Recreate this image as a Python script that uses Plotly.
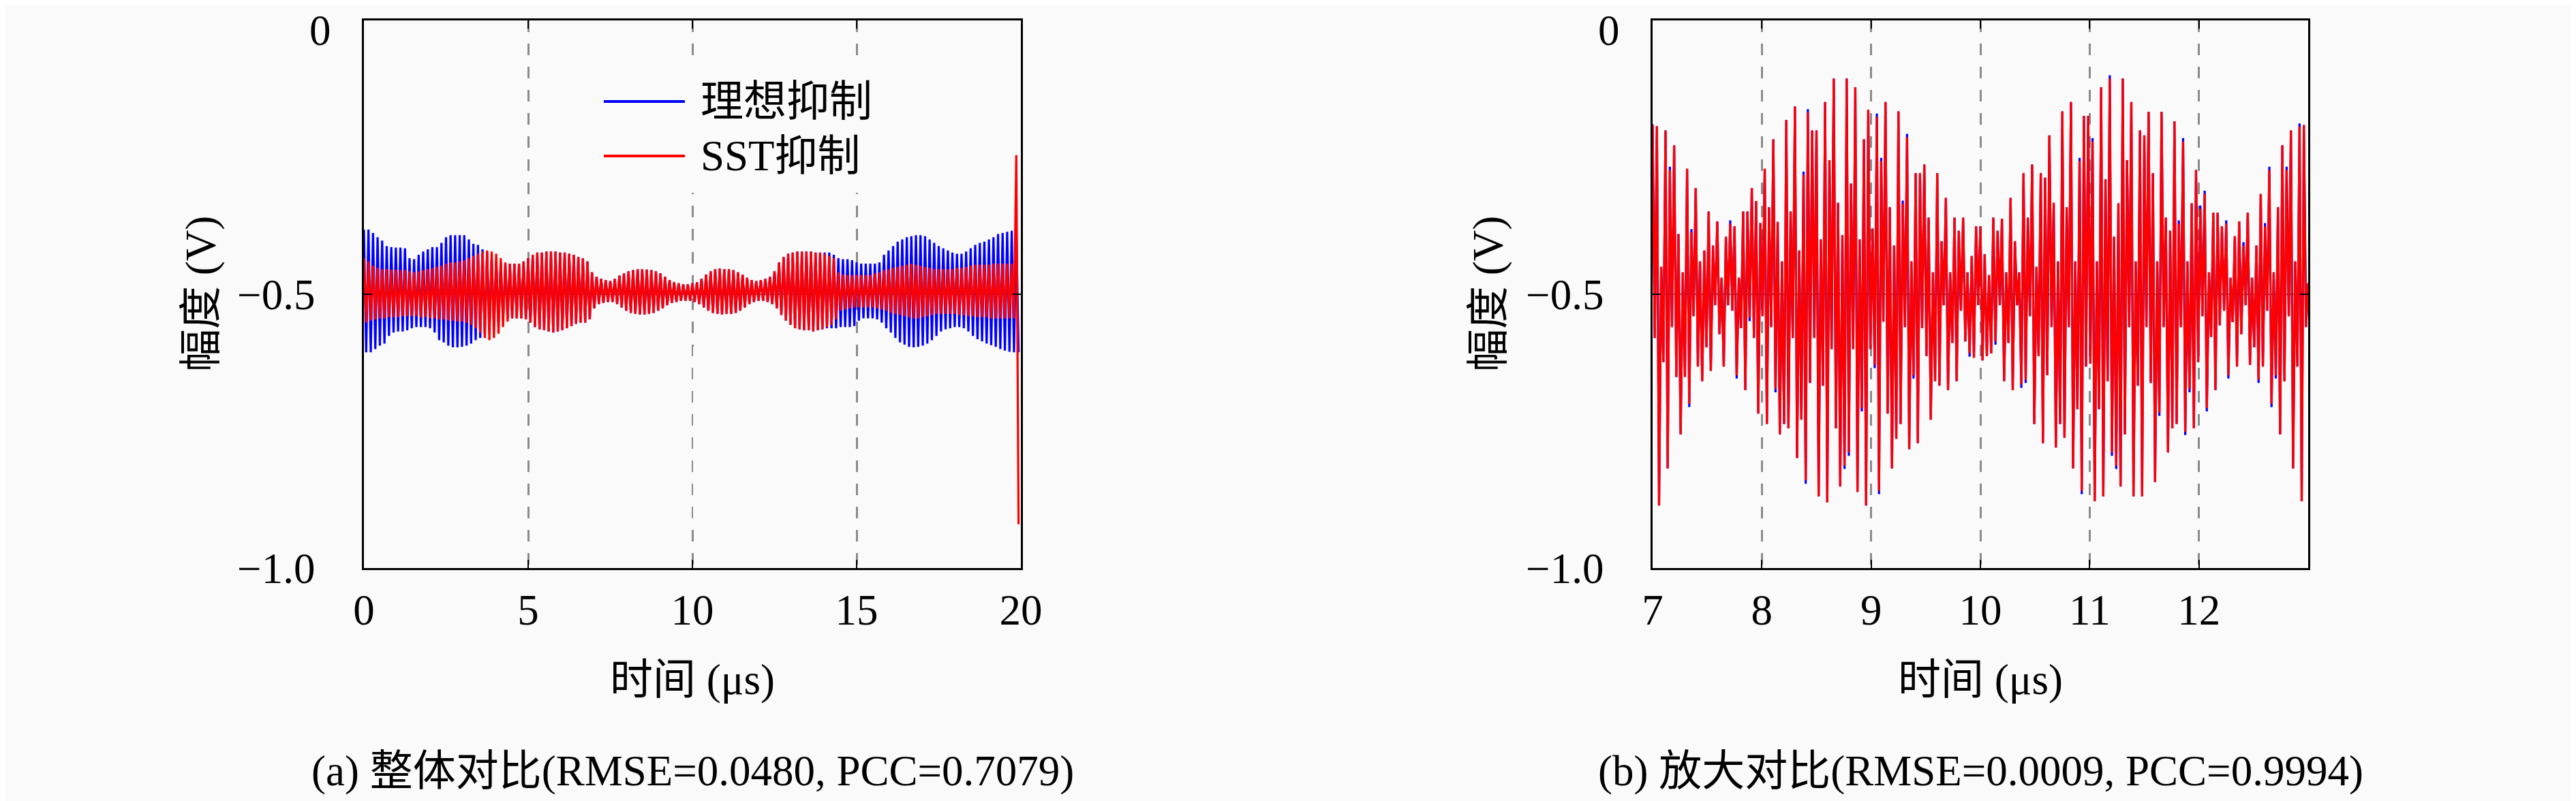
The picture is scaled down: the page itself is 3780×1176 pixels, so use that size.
import numpy as np
import plotly.graph_objects as go

# ---- data (values in mV relative to the -0.5 V baseline) ----
BASE = -0.5

# (a) 0-20 us, one top/bottom pair per carrier cycle
blue_top_a = [118, 118, 112, 104, 98, 88, 86, 85,
              85, 84, 66, 64, 72, 78, 82, 86,
              86, 94, 104, 108, 108, 108, 108, 100,
              92, 90, 82, 78, 66, 62, 58, 56,
              56, 56, 56, 60, 66, 72, 76, 76,
              78, 78, 78, 76, 76, 74, 72, 68,
              66, 60, 40, 32, 28, 26, 24, 28,
              34, 38, 42, 44, 46, 46, 45, 44,
              42, 38, 32, 26, 22, 20, 18, 18,
              20, 22, 28, 36, 42, 46, 47, 46,
              46, 44, 40, 36, 30, 26, 24, 26,
              28, 32, 42, 58, 68, 74, 76, 78,
              78, 78, 78, 76, 76, 76, 76, 72,
              66, 64, 64, 62, 58, 56, 56, 56,
              56, 58, 72, 80, 88, 96, 100, 104,
              106, 108, 108, 106, 100, 94, 88, 84,
              80, 76, 74, 74, 78, 84, 90, 94,
              96, 100, 104, 110, 112, 114, 116, 116]
blue_bot_a = [106, 106, 100, 94, 90, 76, 70, 68,
              68, 66, 62, 60, 60, 60, 62, 70,
              84, 88, 94, 97, 97, 96, 94, 90,
              84, 80, 72, 66, 58, 54, 48, 44,
              44, 44, 44, 46, 52, 60, 64, 66,
              68, 70, 68, 66, 62, 58, 54, 52,
              52, 46, 26, 18, 16, 14, 14, 18,
              24, 30, 34, 36, 37, 37, 36, 34,
              30, 26, 20, 16, 14, 12, 12, 12,
              14, 18, 24, 30, 34, 36, 37, 36,
              36, 34, 30, 24, 18, 14, 12, 12,
              14, 18, 26, 38, 48, 56, 62, 64,
              66, 66, 68, 66, 64, 62, 62, 62,
              60, 60, 60, 58, 48, 44, 44, 44,
              46, 52, 62, 70, 80, 88, 92, 96,
              97, 96, 94, 90, 84, 76, 68, 64,
              62, 60, 60, 62, 68, 76, 82, 86,
              90, 93, 96, 100, 103, 105, 106, 106]
red_top_a = [66, 60, 52, 48, 46, 46, 45, 45,
             44, 44, 42, 40, 42, 44, 46, 48,
             50, 52, 56, 58, 58, 60, 62, 66,
             70, 74, 78, 80, 78, 74, 66, 58,
             56, 56, 56, 60, 66, 72, 76, 76,
             78, 78, 78, 76, 76, 74, 72, 68,
             66, 60, 40, 32, 28, 26, 24, 28,
             34, 38, 42, 44, 46, 46, 45, 44,
             42, 38, 32, 26, 22, 20, 18, 18,
             20, 22, 28, 36, 42, 46, 47, 46,
             46, 44, 40, 36, 30, 26, 24, 26,
             28, 32, 42, 58, 68, 74, 76, 78,
             78, 78, 78, 76, 76, 74, 70, 66,
             40, 36, 35, 35, 35, 35, 35, 35,
             38, 40, 44, 46, 48, 50, 52, 54,
             56, 54, 52, 50, 48, 46, 46, 46,
             46, 46, 48, 48, 50, 52, 54, 54,
             54, 54, 56, 56, 56, 56, 56, 254]
red_bot_a = [52, 48, 46, 44, 44, 42, 42, 42,
             40, 40, 40, 40, 42, 42, 44, 44,
             46, 46, 48, 48, 50, 50, 52, 56,
             62, 70, 80, 84, 80, 72, 60, 50,
             44, 44, 44, 46, 52, 60, 64, 66,
             68, 70, 68, 66, 62, 58, 54, 52,
             52, 46, 26, 18, 16, 14, 14, 18,
             24, 30, 34, 36, 37, 37, 36, 34,
             30, 26, 20, 16, 14, 12, 12, 12,
             14, 18, 24, 30, 34, 36, 37, 36,
             36, 34, 30, 24, 18, 14, 12, 12,
             14, 18, 26, 38, 48, 56, 62, 64,
             66, 66, 68, 66, 64, 60, 56, 46,
             30, 28, 26, 24, 24, 24, 24, 24,
             26, 28, 30, 34, 36, 38, 40, 42,
             44, 44, 42, 40, 38, 36, 36, 36,
             36, 36, 38, 38, 40, 40, 42, 42,
             42, 44, 44, 44, 44, 44, 44, 420]

# (b) 7-13 us, SST output (high / low sample of each step)
red_hi_b = [310, 307, 50, 299, 227, 272, 110, 40, 229, 113,
            194, 60, 80, 151, 89, 133, 30, 105, 129, 124,
            30, 151, 151, 194, 170, 130, 229, 159, 283, 132,
            60, 318, 151, 343, 80, 218, 332, 299, 299, 100,
            351, 245, 394, 167, 108, 394, 202, 378, 100, 283,
            337, 120, 324, 243, 351, 159, 89, 334, 165, 287,
            60, 221, 221, 237, 140, 40, 221, 97, 176, 40,
            140, 116, 140, 40, 70, 124, 124, 73, 35, 140,
            116, 138, 40, 176, 97, 40, 221, 140, 237, 50,
            221, 213, 290, 167, 60, 334, 159, 351, 60, 243,
            326, 326, 279, 60, 378, 210, 394, 105, 166, 394,
            245, 351, 60, 299, 290, 333, 221, 60, 333, 140,
            116, 316, 129, 279, 60, 166, 227, 156, 183, 40,
            149, 149, 124, 129, 30, 106, 133, 89, 149, 30,
            89, 183, 124, 227, 40, 159, 272, 227, 299, 60,
            306, 309, 20]
red_lo_b = [-80, -386, -124, -318, -60, -151, -256, -151, -200, -40,
            -132, -159, -97, -140, -20, -73, -132, -20, -30, -148,
            -62, -175, -43, -80, -218, -40, -237, -60, -173, -256,
            -237, -245, -80, -299, -229, -340, -162, -80, -369, -167,
            -380, -100, -245, -351, -313, -289, -100, -361, -208, -386,
            -100, -129, -359, -50, -218, -318, -264, -237, -60, -283,
            -148, -272, -62, -113, -229, -159, -167, -20, -175, -89,
            -159, -30, -86, -108, -116, -20, -121, -113, -108, -86,
            -20, -159, -89, -175, -20, -165, -156, -40, -237, -113,
            -272, -148, -60, -280, -237, -262, -60, -318, -210, -359,
            -132, -127, -378, -210, -369, -159, -289, -313, -351, -256,
            -60, -369, -167, -369, -60, -162, -343, -216, -60, -289,
            -245, -237, -60, -251, -173, -245, -124, -40, -208, -78,
            -175, -57, -30, -148, -51, -132, -73, -20, -129, -97,
            -156, -132, -30, -200, -148, -256, -159, -40, -318, -132,
            -378, -60, -78]
# ideal output: same as SST except where its tips poke out
blue_tip_hi_b = {4: 233, 9: 119, 18: 135, 35: 224, 36: 338, 52: 330, 53: 249,
                 58: 171, 59: 293, 99: 249, 102: 285, 106: 400, 122: 135,
                 123: 285, 127: 162, 128: 189, 133: 135, 137: 95, 142: 130,
                 143: 233, 147: 233, 150: 312}
blue_tip_lo_b = {8: -206, 19: -154, 22: -49, 28: -179, 35: -346, 44: -319,
                 45: -295, 48: -214, 51: -135, 52: -365, 60: -154, 73: -114,
                 79: -92, 85: -171, 86: -162, 99: -365, 106: -295, 107: -319,
                 117: -222, 123: -257, 124: -179, 128: -214, 133: -154,
                 140: -162, 143: -206, 144: -154}

names = ["理想抑制", "SST抑制"]
captions = ["(a) 整体对比(RMSE=0.0480, PCC=0.7079)",
            "(b) 放大对比(RMSE=0.0009, PCC=0.9994)"]
y_ticks = [-1, -0.5, 0]
y_ticktext = ["−1.0", "−0.5", ""]   # the "0" label is placed separately


def zig(top, bot):
    # interleave top and bottom samples into one trace
    return np.column_stack([BASE + np.array(top) / 1000.0,
                            BASE + np.array(bot) / 1000.0]).ravel()


# time axes
n_a = len(blue_top_a)
per = 20.0 / n_a
t_a = np.arange(n_a) * per
x_a = np.column_stack([t_a, t_a + per / 2]).ravel()

n_b = len(red_hi_b)
t_b = np.linspace(7, 13, n_b)
half = (t_b[1] - t_b[0]) / 2
x_b = np.column_stack([t_b, t_b + half]).ravel()

blue_hi_b = list(red_hi_b)
blue_lo_b = list(red_lo_b)
for i, v in blue_tip_hi_b.items():
    blue_hi_b[i] = v
for i, v in blue_tip_lo_b.items():
    blue_lo_b[i] = v

BLUE = "#0000ff"
RED = "#ff0000"
BG = "#fafafa"
FONT = "Liberation Serif, Noto Sans CJK SC"
FS = 63
LW = 3.2

fig = go.Figure()
fig.add_trace(go.Scatter(x=x_a, y=zig(blue_top_a, -np.array(blue_bot_a)), mode="lines",
                         line=dict(color=BLUE, width=LW), name=names[0], xaxis="x", yaxis="y"))
fig.add_trace(go.Scatter(x=x_a, y=zig(red_top_a, -np.array(red_bot_a)), mode="lines",
                         line=dict(color=RED, width=LW), name=names[1], xaxis="x", yaxis="y"))
fig.add_trace(go.Scatter(x=x_b, y=zig(blue_hi_b, blue_lo_b), mode="lines",
                         line=dict(color=BLUE, width=LW), name=names[0], xaxis="x2", yaxis="y2"))
fig.add_trace(go.Scatter(x=x_b, y=zig(red_hi_b, red_lo_b), mode="lines",
                         line=dict(color=RED, width=LW), name=names[1], xaxis="x2", yaxis="y2"))

W, H = 3780, 1176
top_px, bot_px = 22, 826
ydom = [(H - bot_px) / H, (H - top_px) / H]
xdom_a = [526 / W, 1490 / W]
xdom_b = [2417 / W, 3379 / W]

axis_common = dict(showline=True, linewidth=3, linecolor="black", mirror="ticks",
                   ticks="inside", ticklen=12, tickwidth=2, tickcolor="black",
                   zeroline=False, ticklabeloverflow="allow", automargin=False,
                   tickfont=dict(size=FS, color="black", family=FONT))
xgrid = dict(showgrid=True, gridcolor="#8a8a8a", gridwidth=2.5, griddash="17px,17px")

fig.update_layout(
    width=W, height=H,
    paper_bgcolor=BG, plot_bgcolor=BG,
    margin=dict(l=0, r=0, t=0, b=0, autoexpand=False),
    showlegend=False,
    font=dict(family=FONT, size=FS, color="black"),
    xaxis=dict(domain=xdom_a, range=[0, 20], tickvals=[0, 5, 10, 15, 20],
               ticklabelstandoff=4, anchor="y", **xgrid, **axis_common),
    yaxis=dict(domain=ydom, range=[-1, 0], tickvals=y_ticks, ticktext=y_ticktext,
               showgrid=False, ticklabelstandoff=56, anchor="x", **axis_common),
    xaxis2=dict(domain=xdom_b, range=[7, 13], tickvals=[7, 8, 9, 10, 11, 12],
                ticklabelstandoff=4, anchor="y2", **xgrid, **axis_common),
    yaxis2=dict(domain=ydom, range=[-1, 0], tickvals=y_ticks, ticktext=y_ticktext,
                showgrid=False, ticklabelstandoff=56, anchor="x2", **axis_common),
)

# thin reference line at the baseline
for xr, yr in (("x domain", "y"), ("x2 domain", "y2")):
    fig.add_shape(type="line", xref=xr, yref=yr, x0=0, x1=1, y0=BASE, y1=BASE,
                  line=dict(color="#333333", width=1.5), layer="below")

# legend drawn by hand (long line samples, opaque box hiding the grid)
fig.add_shape(type="rect", xref="paper", yref="paper",
              x0=850 / W, x1=1295 / W, y0=(H - 275) / H, y1=(H - 86) / H,
              fillcolor=BG, line=dict(width=0), layer="above")
for name, col, ypx in ((names[0], BLUE, 141), (names[1], RED, 221)):
    yp = (H - ypx) / H
    fig.add_shape(type="line", xref="paper", yref="paper",
                  x0=878 / W, x1=997 / W, y0=yp, y1=yp,
                  line=dict(color=col, width=4), layer="above")
    fig.add_annotation(x=1018 / W, y=yp, xref="paper", yref="paper", text=name,
                       showarrow=False, xanchor="left", yanchor="middle",
                       font=dict(size=FS, family=FONT))

# axis titles, captions and the top "0" tick label
for dom, ytx, cap in ((xdom_a, 287, captions[0]), (xdom_b, 2176, captions[1])):
    cx = (dom[0] + dom[1]) / 2
    fig.add_annotation(x=cx, y=(H - 990) / H, xref="paper", yref="paper",
                       text="时间 (μs)", showarrow=False, xanchor="center",
                       yanchor="middle", font=dict(size=FS, family=FONT))
    fig.add_annotation(x=cx, y=(H - 1124) / H, xref="paper", yref="paper",
                       text=cap, showarrow=False, xanchor="center",
                       yanchor="middle", font=dict(size=FS, family=FONT))
    fig.add_annotation(x=ytx / W, y=(H - 424) / H, xref="paper", yref="paper",
                       text="幅度 (V)", textangle=-90, showarrow=False,
                       xanchor="center", yanchor="middle",
                       font=dict(size=FS, family=FONT))
    fig.add_annotation(x=(dom[0] * W - 46) / W, y=1.0, xref="paper",
                       yref="paper", text="0", showarrow=False, xanchor="right",
                       yanchor="top", font=dict(size=FS, family=FONT))

fig.write_html("out.html")
